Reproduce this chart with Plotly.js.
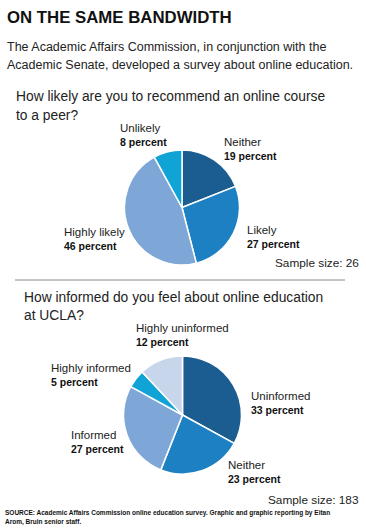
<!DOCTYPE html>
<html>
<head>
<meta charset="utf-8">
<script src="https://cdn.plot.ly/plotly-3.0.1.min.js"></script>
<style>
html,body{margin:0;padding:0;background:#fff;}
#chart{width:366px;height:530px;}
</style>
</head>
<body>
<div id="chart"></div>
<script>
// Data
const q1Labels = ["Neither", "Likely", "Highly likely", "Unlikely"];
const q1Values = [19, 27, 46, 8];
const q2Labels = ["Uninformed", "Neither", "Informed", "Highly informed", "Highly uninformed"];
const q2Values = [33, 23, 27, 5, 12];
const q1Sample = 26;
const q2Sample = 183;

const W = 366, H = 530;
const px = x => x / W;
const py = y => 1 - y / H;

const DARK = "#1b5d91", MED = "#1c80c3", LIGHT = "#7ea7d8", CYAN = "#0fa3d6", PALE = "#c8d6eb";

const SANS = "'Liberation Sans', Arial, sans-serif";

function pieDomain(cx, cy, r) {
  return {x: [px(cx - r), px(cx + r)], y: [py(cy + r), py(cy - r)]};
}

const traces = [
  {
    type: "pie", labels: q1Labels, values: q1Values, sort: false, direction: "clockwise", rotation: 0,
    textinfo: "none", hoverinfo: "label+value", showlegend: false,
    marker: {colors: [DARK, MED, LIGHT, CYAN], line: {color: "#ffffff", width: 1.5}},
    domain: pieDomain(182, 207.5, 57.5)
  },
  {
    type: "pie", labels: q2Labels, values: q2Values, sort: false, direction: "clockwise", rotation: 0,
    textinfo: "none", hoverinfo: "label+value", showlegend: false,
    marker: {colors: [DARK, MED, LIGHT, CYAN, PALE], line: {color: "#ffffff", width: 1.5}},
    domain: pieDomain(182.5, 415, 59)
  }
];

const anns = [];
function txt(x, y, text, size, opts) {
  opts = opts || {};
  anns.push({
    xref: "paper", yref: "paper", x: px(x), y: py(y), text: text, showarrow: false,
    xanchor: opts.xanchor || "left", yanchor: "middle", align: opts.xanchor || "left",
    xshift: 0, borderpad: 0,
    font: {family: opts.family || SANS, size: size, color: opts.color || "#1a1a1a"}
  });
}
function lbl(x, y, name, value) {
  txt(x, y, name, 11.5, {color: "#222"});
  txt(x, y + 14, "<b>" + value + " percent</b>", 10.5, {color: "#111"});
}

txt(6, 18, "<b>ON THE SAME BANDWIDTH</b>", 16.8, {color: "#111"});
txt(6, 47, "The Academic Affairs Commission, in conjunction with the", 12.5, {color: "#222"});
txt(6, 65, "Academic Senate, developed a survey about online education.", 12.5, {color: "#222"});

txt(15, 97, "How likely are you to recommend an online course", 13.8, {color: "#222"});
txt(15, 115, "to a peer?", 13.8, {color: "#222"});

// Pie 1 labels (order follows q1Labels)
lbl(223, 142, q1Labels[0], q1Values[0]);
lbl(246, 230, q1Labels[1], q1Values[1]);
lbl(63, 232, q1Labels[2], q1Values[2]);
lbl(119, 128, q1Labels[3], q1Values[3]);
txt(360, 263, "Sample size: " + q1Sample, 11.8, {xanchor: "right", color: "#222"});

txt(23, 297, "How informed do you feel about online education", 13.8, {color: "#222"});
txt(23, 315, "at UCLA?", 13.8, {color: "#222"});

// Pie 2 labels
lbl(250, 396, q2Labels[0], q2Values[0]);
lbl(227, 465, q2Labels[1], q2Values[1]);
lbl(70, 435, q2Labels[2], q2Values[2]);
lbl(50, 368, q2Labels[3], q2Values[3]);
lbl(135, 328, q2Labels[4], q2Values[4]);
txt(360, 500, "Sample size: " + q2Sample, 11.8, {xanchor: "right", color: "#222"});

txt(4, 513, "<b>SOURCE: Academic Affairs Commission online education survey. Graphic and graphic reporting by Eitan</b>", 6.5, {color: "#111"});
txt(4, 522, "<b>Arom, Bruin senior staff.</b>", 6.5, {color: "#111"});

const layout = {
  width: W, height: H,
  margin: {l: 0, r: 0, t: 0, b: 0},
  paper_bgcolor: "#ffffff", plot_bgcolor: "#ffffff",
  showlegend: false,
  annotations: anns,
  shapes: [{type: "line", xref: "paper", yref: "paper", x0: px(15), x1: px(345), y0: py(280), y1: py(280),
            line: {color: "#8a8a8a", width: 1}}]
};

Plotly.newPlot("chart", traces, layout, {displayModeBar: false, staticPlot: true});
</script>
</body>
</html>
